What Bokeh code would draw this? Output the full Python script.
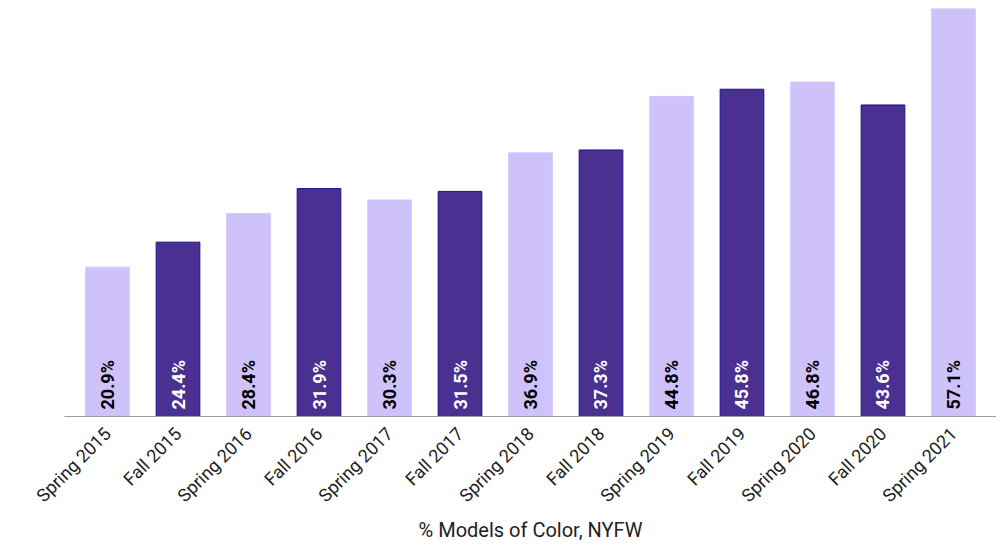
from bokeh.plotting import figure
from bokeh.models import ColumnDataSource, FactorRange, Range1d
from bokeh.embed import file_html
from bokeh.resources import INLINE
from bokeh.core.properties import value
import math

categories = ["Spring 2015", "Fall 2015", "Spring 2016", "Fall 2016", "Spring 2017", "Fall 2017",
              "Spring 2018", "Fall 2018", "Spring 2019", "Fall 2019", "Spring 2020", "Fall 2020",
              "Spring 2021"]
values = [20.9, 24.4, 28.4, 31.9, 30.3, 31.5, 36.9, 37.3, 44.8, 45.8, 46.8, 43.6, 57.1]
axis_title = "% Models of Color, NYFW"

LIGHT_FILL, LIGHT_LINE, LIGHT_TEXT = "#cfc2fb", "#d3c8fa", "#000000"
DARK_FILL, DARK_LINE, DARK_TEXT = "#4a3091", "#1e1290", "#ffffff"

is_fall = [c.startswith("Fall") for c in categories]
src = ColumnDataSource(dict(
    x=categories,
    top=values,
    label=[f"{v}%" for v in values],
    fill=[DARK_FILL if f else LIGHT_FILL for f in is_fall],
    line=[DARK_LINE if f else LIGHT_LINE for f in is_fall],
    tcolor=[DARK_TEXT if f else LIGHT_TEXT for f in is_fall],
    base=[0] * len(values),
))

p = figure(width=996, height=545, output_backend="svg", toolbar_location=None,
           x_range=FactorRange(*categories, range_padding=0.11, range_padding_units="absolute"),
           y_range=Range1d(0, 57.1),
           min_border_left=64, min_border_right=0, min_border_top=8, min_border_bottom=128)

p.vbar(x="x", top="top", width=0.62, source=src, fill_color="fill", line_color="line", line_width=1)

p.text(x="x", y="base", text="label", source=src, angle=math.pi / 2,
       text_align="left", text_baseline="middle", y_offset=-7,
       text_color="tcolor", text_font=value("Roboto"), text_font_size="18px",
       text_font_style="bold")

p.xgrid.visible = False
p.ygrid.visible = False
p.yaxis.visible = False
p.outline_line_color = None

xa = p.xaxis[0]
xa.axis_line_color = "#9e9e9e"
xa.axis_line_width = 1
xa.major_tick_line_color = None
xa.minor_tick_line_color = None
xa.major_label_orientation = math.pi / 4
xa.major_label_text_font = "Roboto"
xa.major_label_text_font_size = "18px"
xa.major_label_text_color = "#222222"
xa.major_label_standoff = 8
xa.axis_label = axis_title
xa.axis_label_text_font = "Roboto"
xa.axis_label_text_font_size = "20px"
xa.axis_label_text_font_style = "normal"
xa.axis_label_text_color = "#222222"
xa.axis_label_standoff = 2

open("out.html", "w").write(file_html(p, INLINE))
